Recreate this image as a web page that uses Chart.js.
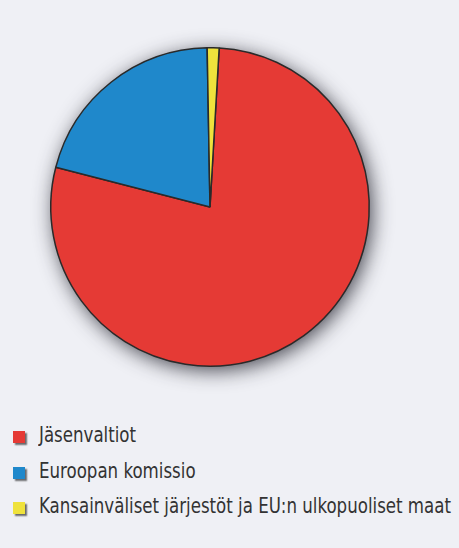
<!DOCTYPE html>
<html>
<head>
<meta charset="utf-8">
<script src="https://cdn.jsdelivr.net/npm/chart.js@4"></script>
<style>
  html, body { margin: 0; padding: 0; background: #eff0f5; }
  #wrap { position: relative; width: 459px; height: 548px; }
  #chart-box { position: absolute; left: 0; top: 0; width: 459px; height: 400px; }
  #legend { position: absolute; left: 0; top: 424px; margin: 0; padding: 0; list-style: none; }
  #legend li {
    position: relative; height: 35.5px; padding-left: 39px;
    font-family: "DejaVu Sans Condensed", "DejaVu Sans", sans-serif;
    font-weight: 300;
    font-size: 21px; color: #333; line-height: 22px; white-space: nowrap;
  }
  #legend .txt { display: inline-block; transform-origin: 0 50%; }
  #legend .box {
    position: absolute; left: 13px; top: 7px; width: 12px; height: 12px;
    box-shadow: 2px 2px 1.5px rgba(0,0,0,0.55);
  }
</style>
</head>
<body>
<div id="wrap">
  <div id="chart-box"><canvas id="pie"></canvas></div>
  <ul id="legend"></ul>
</div>
<script>
// Données (parts en %)
const labels = ["Jäsenvaltiot", "Euroopan komissio", "Kansainväliset järjestöt ja EU:n ulkopuoliset maat"];
const shares = [78.1, 20.7, 1.2];
const colors = ["#e53a35", "#1f88cb", "#efe23c"];

// Ombre portée derrière le camembert
const pieShadow = {
  id: "pieShadow",
  beforeDatasetsDraw(chart) {
    const arc = chart.getDatasetMeta(0).data[0];
    if (!arc) return;
    const ctx = chart.ctx;
    ctx.save();
    ctx.shadowColor = "rgba(40,40,50,0.85)";
    ctx.shadowBlur = 20;
    ctx.shadowOffsetX = 3;
    ctx.shadowOffsetY = 4;
    ctx.fillStyle = "#666";
    ctx.beginPath();
    ctx.arc(arc.x, arc.y, arc.outerRadius, 0, Math.PI * 2);
    ctx.fill();
    ctx.restore();
  },
};

const ctx = document.getElementById("pie").getContext("2d");
new Chart(ctx, {
  type: "pie",
  data: {
    labels: labels,
    datasets: [
      {
        data: shares,
        backgroundColor: colors,
        borderColor: "#2a2a2a",
        borderWidth: 1.5,
      },
    ],
  },
  options: {
    responsive: true,
    maintainAspectRatio: false,
    animation: false,
    rotation: 3.3,
    layout: { padding: { left: 50, right: 89, top: 47, bottom: 33 } },
    plugins: {
      legend: { display: false },
      tooltip: { enabled: false },
    },
  },
  plugins: [pieShadow],
});

// Légende HTML (texte resserré pour tenir dans la largeur d'origine)
const legend = document.getElementById("legend");
const spans = labels.map((label, i) => {
  const li = document.createElement("li");
  li.innerHTML = `<span class="box" style="background:${colors[i]}"></span><span class="txt">${label}</span>`;
  legend.appendChild(li);
  return li.querySelector(".txt");
});
const widest = Math.max(...spans.map((s) => s.getBoundingClientRect().width));
const squeeze = 412 / widest;
spans.forEach((s) => (s.style.transform = `scaleX(${squeeze})`));
</script>
</body>
</html>
